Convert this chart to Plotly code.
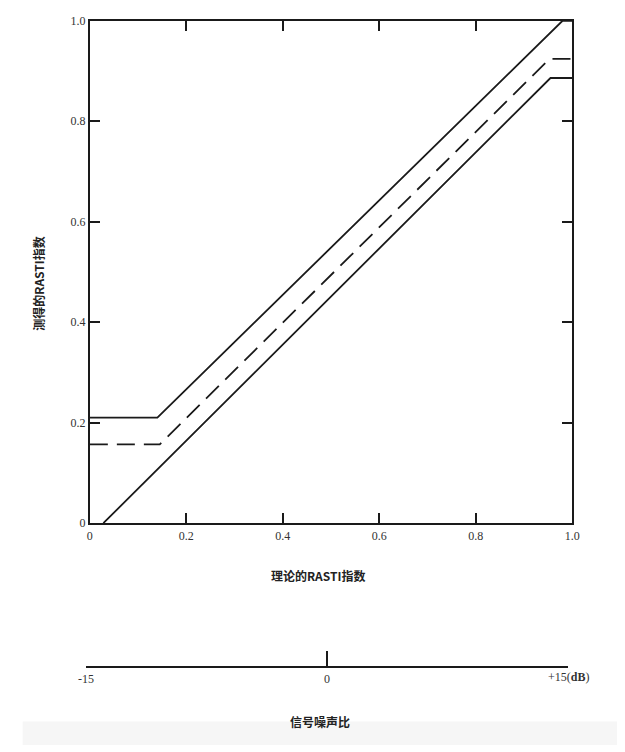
import plotly.graph_objects as go

# data
upper_x = [0.0, 0.14, 0.98, 1.0]
upper_y = [0.21, 0.21, 1.0, 1.0]
mid_x = [0.0, 0.145, 0.953, 1.0]
mid_y = [0.157, 0.157, 0.924, 0.924]
lower_x = [0.028, 0.955, 1.0]
lower_y = [0.0, 0.886, 0.886]

x_ticks = [0, 0.2, 0.4, 0.6, 0.8, 1.0]
x_ticklabels = ["0", "0.2", "0.4", "0.6", "0.8", "1.0"]
y_ticks = [0, 0.2, 0.4, 0.6, 0.8, 1.0]
y_ticklabels = ["0", "0.2", "0.4", "0.6", "0.8", "1.0"]
snr_ticks = [-15, 0, 15]
snr_ticklabels = ["-15", "0", ""]
snr_end_label = "+15(<b>dB</b>)"

W, H = 625, 752
def px(x): return x / W
def py(y): return 1 - y / H

ink = "#1a1a1a"
tickfont = dict(family="Liberation Serif, DejaVu Serif, serif", size=12, color="#333")

fig = go.Figure()
line_style = dict(color=ink, width=1.8)
fig.add_trace(go.Scatter(x=upper_x, y=upper_y, mode="lines", line=line_style, showlegend=False))
fig.add_trace(go.Scatter(x=mid_x, y=mid_y, mode="lines",
                         line=dict(color=ink, width=1.8, dash="18px,9px"), showlegend=False))
fig.add_trace(go.Scatter(x=lower_x, y=lower_y, mode="lines", line=line_style, showlegend=False))
# secondary SNR axis carrier
fig.add_trace(go.Scatter(x=[-15, 15], y=[0, 0], mode="lines", line=dict(color="rgba(0,0,0,0)"),
                         xaxis="x2", yaxis="y2", showlegend=False, hoverinfo="skip"))

fig.update_layout(
    width=W, height=H,
    margin=dict(l=0, r=0, t=0, b=0),
    paper_bgcolor="white", plot_bgcolor="white",
    xaxis=dict(domain=[px(84), px(579)], range=[0, 1.0], tickvals=x_ticks, ticktext=x_ticklabels,
               ticks="inside", ticklen=10, tickwidth=1.5, tickcolor=ink,
               showline=True, linecolor=ink, linewidth=2, mirror="ticks",
               showgrid=False, zeroline=False, tickfont=tickfont, anchor="y"),
    yaxis=dict(domain=[py(526), py(14)], range=[0, 1.0], tickvals=y_ticks, ticktext=y_ticklabels,
               ticks="inside", ticklen=10, tickwidth=1.5, tickcolor=ink,
               showline=True, linecolor=ink, linewidth=2, mirror="ticks",
               showgrid=False, zeroline=False, tickfont=tickfont, anchor="x"),
    xaxis2=dict(domain=[px(80), px(575)], range=[-15, 15], tickvals=snr_ticks, ticktext=snr_ticklabels,
                ticks="inside", ticklen=16, tickwidth=1.5, tickcolor=ink,
                showline=True, linecolor=ink, linewidth=1.8,
                showgrid=False, zeroline=False, tickfont=tickfont, anchor="y2"),
    yaxis2=dict(domain=[py(672), py(668)], range=[-1, 1], visible=False, anchor="x2"),
    font=dict(family="Noto Sans CJK SC", color=ink),
)

fig.add_annotation(text=snr_end_label, x=15, y=0, xref="x2", yref="paper",
                   yanchor="middle", xanchor="left", xshift=-22,
                   showarrow=False, font=tickfont)
# place +15(dB) at the tick-label row
fig.layout.annotations[0].y = py(683)

cjk = dict(family="Noto Sans CJK SC", size=12, color="#222")
fig.add_annotation(text="<b>理论的RASTI指数</b>", x=px(318), y=py(590), xref="paper", yref="paper",
                   showarrow=False, font=cjk)
fig.add_annotation(text="<b>测得的RASTI指数</b>", x=px(21), y=py(282), xref="paper", yref="paper",
                   showarrow=False, textangle=-90, font=cjk)
fig.add_annotation(text="<b>信号噪声比</b>", x=px(320), y=py(739), xref="paper", yref="paper",
                   showarrow=False, font=cjk)
fig.add_shape(type="rect", xref="paper", yref="paper", x0=px(15), x1=1, y0=0, y1=py(728),
              fillcolor="#f6f6f6", line=dict(width=0), layer="below")

fig.write_html("out.html")
